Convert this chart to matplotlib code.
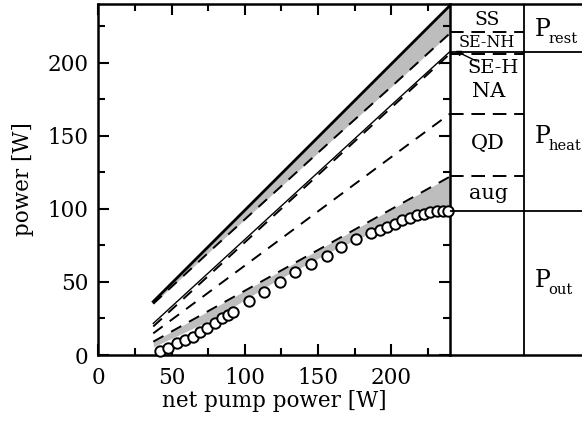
import numpy as np
import matplotlib
matplotlib.use("Agg")
import matplotlib.pyplot as plt
from matplotlib.ticker import MultipleLocator

plt.rcParams['font.family'] = ['DejaVu Serif']

# boundaries of the stacked power budget, read at these pump powers
pump = [37.5, 80, 120, 160, 200, 240]
total = [36.5, 79, 119, 159, 199, 239]          # solid, = pump
ss_low = [35.0, 74.5, 111, 147.5, 183.5, 220]  # below SS (dashed)
senh_low = [21.6, 60.6, 97.4, 134.1, 170.9, 207.5]  # thin solid
na_top = [19.5, 58.6, 95.5, 132.3, 169.2, 206]
qd_top = [14.8, 46.3, 76.0, 105.7, 135.4, 165]
aug_top = [9.1, 32.8, 55.1, 77.4, 99.7, 122]
out_sim = [5.5, 25.5, 50, 71.5, 90, 99.5]

# measured output power (circles)
meas_x = [42.1, 47.7, 53.4, 59.1, 64.8, 69.3, 73.9, 79.6, 84.1, 88.5, 92.2,
          102.9, 112.9, 123.9, 134.5, 145, 156, 165.9, 176.1, 186.4, 192,
          197, 202.3, 207.5, 212.5, 217.5, 222, 226.6, 231, 235.2, 238.5]
meas_y = [2.9, 4.5, 8.0, 10.2, 12.5, 15.9, 18.2, 21.6, 25.0, 27.5, 29.1,
          37.0, 43.2, 50.0, 56.5, 62.5, 68.0, 73.8, 79.0, 83.6, 85.5,
          87.5, 89.8, 92.0, 93.6, 95.4, 96.6, 97.7, 98.4, 98.4, 98.2]

# right-hand bar: level boundaries at max pump power
lvl_ss = 221
lvl_rest = 207.5
lvl_seh = 206
lvl_na = 165
lvl_qd = 122.5
lvl_out = 98.5

gray = '#bdbdbd'
dash = (0, (6, 4.5))

fig = plt.figure(figsize=(5.82, 4.22), dpi=100)
ax = fig.add_axes([98.3 / 582, 67 / 422, 351.7 / 582, 351 / 422])

ax.fill_between(pump, ss_low, total, color=gray, lw=0)
ax.fill_between(pump, out_sim, aug_top, color=gray, lw=0)

ax.plot(pump, total, color='black', lw=2.0)
ax.plot(pump, ss_low, color='black', lw=1.4, ls=dash)
ax.plot(pump, senh_low, color='black', lw=1.0)
ax.plot(pump, na_top, color='black', lw=1.4, ls=dash)
ax.plot(pump, qd_top, color='black', lw=1.4, ls=dash)
ax.plot(pump, aug_top, color='black', lw=1.4, ls=dash)
ax.plot(meas_x, meas_y, 'o', ms=7.5, mfc='white', mec='black', mew=1.4,
        clip_on=False, zorder=5)

ax.set_xlim(0, 240)
ax.set_ylim(0, 240)
ax.xaxis.set_major_locator(MultipleLocator(50))
ax.yaxis.set_major_locator(MultipleLocator(50))
ax.xaxis.set_minor_locator(MultipleLocator(25))
ax.yaxis.set_minor_locator(MultipleLocator(25))
ax.tick_params(which='both', direction='in', top=True, right=True,
               width=1.5, labelsize=15.5)
ax.tick_params(axis='x', which='both', pad=9)
ax.tick_params(axis='y', which='both', pad=7)
ax.tick_params(which='major', length=8)
ax.tick_params(which='minor', length=5)
for s in ax.spines.values():
    s.set_linewidth(1.8)
ax.set_xlabel('net pump power [W]', fontsize=15.5, labelpad=0)
ax.set_ylabel('power [W]', fontsize=15.5, labelpad=10)

# bar with the budget at full pump
ax2 = fig.add_axes([450 / 582, 67 / 422, 132 / 582, 351 / 422])
ax2.set_xlim(0, 1)
ax2.set_ylim(0, 240)
ax2.set_xticks([])
ax2.set_yticks([])
ax2.patch.set_alpha(0)
ax2.spines['right'].set_visible(False)
ax2.spines['left'].set_visible(False)
ax2.spines['top'].set_linewidth(1.8)
ax2.spines['bottom'].set_linewidth(1.8)

xm = 0.56
ax2.axvline(xm, color='black', lw=1.3)
for lv in [lvl_rest, lvl_out]:
    ax2.axhline(lv, color='black', lw=1.3)
for lv in [lvl_ss, lvl_seh, lvl_na, lvl_qd]:
    ax2.plot([0, xm], [lv, lv], color='black', lw=1.4, ls=(0, (7, 4)))

ax2.text(0.28, 229, 'SS', ha='center', va='center', fontsize=13.5)
ax2.text(0.28, 214, 'SE-NH', ha='center', va='center', fontsize=11.5)
ax2.text(0.33, 196.5, 'SE-H', ha='center', va='center', fontsize=14)
ax2.text(0.29, 180, 'NA', ha='center', va='center', fontsize=15)
ax2.text(0.29, 144.5, 'QD', ha='center', va='center', fontsize=15)
ax2.text(0.29, 110.5, 'aug', ha='center', va='center', fontsize=15)
ax2.annotate('', xy=(0.04, 208), xytext=(0.2, 201),
             arrowprops=dict(arrowstyle='-|>', color='black', lw=1.0,
                             mutation_scale=8, shrinkA=0, shrinkB=0))

# P with subscripts as separate texts
for yb, sub in [(218, 'rest'), (145, 'heat'), (46.4, 'out')]:
    ax2.text(0.645, yb, 'P', ha='left', va='baseline', fontsize=17)
    ax2.text(0.745, yb - 4.5, sub, ha='left', va='baseline', fontsize=10.5)

fig.savefig('out.png', dpi=100)
